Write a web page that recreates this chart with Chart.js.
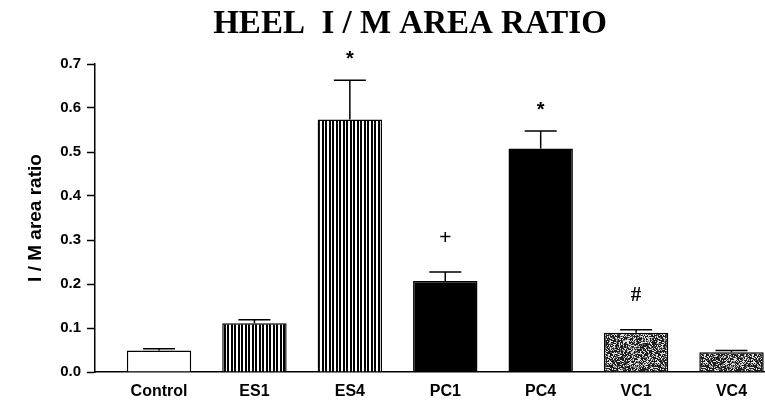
<!DOCTYPE html>
<html>
<head>
<meta charset="utf-8">
<script src="https://cdn.jsdelivr.net/npm/chart.js@4"></script>
<style>
  html, body { margin: 0; padding: 0; background: #fff; overflow: hidden; }
  #wrap { position: relative; width: 765px; height: 402px; }
</style>
</head>
<body>
<div id="wrap"><canvas id="c"></canvas></div>
<script>
// ---- data ----
const chartTitle = 'HEEL  I / M AREA RATIO';
const yAxisTitle = 'I / M area ratio';
const categories = ['Control', 'ES1', 'ES4', 'PC1', 'PC4', 'VC1', 'VC4'];
const values = [0.049, 0.111, 0.574, 0.207, 0.508, 0.089, 0.045];
const errors = [0.004, 0.008, 0.089, 0.020, 0.040, 0.007, 0.004];
const markers = ['', '', '*', '+', '*', '#', ''];
const yTicks = [0.0, 0.1, 0.2, 0.3, 0.4, 0.5, 0.6, 0.7];

// ---- styles ----
const fillKinds = ['white', 'stripes', 'stripes', 'black', 'black', 'stipple', 'stipple'];

function makeStripes() {
  const c = document.createElement('canvas');
  c.width = 7; c.height = 4;
  const g = c.getContext('2d');
  g.fillStyle = '#fff'; g.fillRect(0, 0, 7, 4);
  g.fillStyle = '#000';
  g.fillRect(0, 0, 2, 4);
  g.fillRect(3, 0, 2, 4);
  return g.createPattern(c, 'repeat');
}
function hash2(x, y) {
  let h = (x * 374761393 + y * 668265263) | 0;
  h = Math.imul(h ^ (h >>> 13), 1274126177);
  h = h ^ (h >>> 16);
  return (h >>> 0) / 4294967296;
}
function makeStipple() {
  const n = 48;
  const c = document.createElement('canvas');
  c.width = n; c.height = n;
  const g = c.getContext('2d');
  g.fillStyle = '#1e1e1e'; g.fillRect(0, 0, n, n);
  for (let y = 0; y < n; y++) {
    for (let x = 0; x < n; x++) {
      const h = hash2(x, y);
      if (h < 0.28) { g.fillStyle = '#e0e0e0'; g.fillRect(x, y, 1, 1); }
      else if (h < 0.45) { g.fillStyle = '#7a7a7a'; g.fillRect(x, y, 1, 1); }
    }
  }
  return g.createPattern(c, 'repeat');
}
const patterns = { white: '#ffffff', black: '#000000', stripes: makeStripes(), stipple: makeStipple() };

const markerStyle = {
  '*': { font: 'bold 20px "Liberation Sans", Arial, sans-serif', gap: 25 },
  '+': { font: 'bold 22px "Liberation Serif", "Times New Roman", serif', gap: 35 },
  '#': { font: 'bold 21px "Liberation Serif", "Times New Roman", serif', gap: 36 }
};

const whiteBg = {
  id: 'whiteBg',
  beforeDraw(chart) {
    const ctx = chart.ctx;
    ctx.save();
    ctx.fillStyle = '#fff';
    ctx.fillRect(0, 0, chart.width, chart.height);
    ctx.restore();
  }
};

const errorBars = {
  id: 'errorBars',
  afterDatasetsDraw(chart) {
    const ctx = chart.ctx;
    const ys = chart.scales.y;
    const meta = chart.getDatasetMeta(0);
    ctx.save();
    ctx.strokeStyle = '#000';
    ctx.lineWidth = 1.5;
    meta.data.forEach((el, i) => {
      const top = ys.getPixelForValue(values[i] + errors[i]);
      ctx.beginPath();
      ctx.moveTo(el.x, el.y);
      ctx.lineTo(el.x, top);
      ctx.moveTo(el.x - 16, top);
      ctx.lineTo(el.x + 16, top);
      ctx.stroke();
      const m = markers[i];
      if (m) {
        const st = markerStyle[m];
        ctx.font = st.font;
        ctx.fillStyle = '#000';
        ctx.textAlign = 'center';
        ctx.textBaseline = 'alphabetic';
        const tm = ctx.measureText(m);
        const a = tm.actualBoundingBoxAscent, d = tm.actualBoundingBoxDescent;
        const cy = top - st.gap;
        ctx.fillText(m, el.x, cy + (a - d) / 2);
      }
    });
    ctx.restore();
  }
};

const titlePlugin = {
  id: 'bigTitle',
  afterDraw(chart) {
    const ctx = chart.ctx;
    ctx.save();
    ctx.font = 'bold 33px "Liberation Serif", "Times New Roman", serif';
    ctx.fillStyle = '#000';
    ctx.textAlign = 'center';
    ctx.textBaseline = 'alphabetic';
    ctx.fillText(chartTitle, 410, 33);
    ctx.restore();
  }
};

new Chart(document.getElementById('c'), {
  type: 'bar',
  data: {
    datasets: [{
      data: categories.map((c, i) => ({ x: i, y: values[i] })),
      backgroundColor: fillKinds.map(k => patterns[k]),
      borderColor: '#000',
      borderWidth: 1.5,
      barPercentage: 0.9,
      categoryPercentage: 0.75
    }]
  },
  plugins: [whiteBg, errorBars, titlePlugin],
  options: {
    responsive: true,
    maintainAspectRatio: false,
    animation: false,
    layout: { padding: { top: 64, left: 20, right: 0, bottom: 0 } },
    plugins: { legend: { display: false }, tooltip: { enabled: false }, title: { display: false } },
    scales: {
      x: {
        type: 'linear',
        offset: false,
        min: -0.671,
        max: 6.351,
        afterBuildTicks(scale) { scale.ticks = categories.map((c, i) => ({ value: i })); },
        afterFit(scale) { scale.height = 30; },
        ticks: {
          callback: (v) => categories[v] !== undefined ? categories[v] : '',
          color: '#000',
          font: { family: '"Liberation Sans", Arial, sans-serif', size: 16, weight: 'bold' },
          padding: 10,
          maxRotation: 0,
          autoSkip: false
        },
        grid: { display: true, offset: false, drawOnChartArea: false, drawTicks: false },
        border: { display: true, color: '#000', width: 1.5 }
      },
      y: {
        min: 0,
        max: 0.7,
        afterBuildTicks(scale) { scale.ticks = yTicks.map(v => ({ value: v })); },
        afterFit(scale) { scale.width = 75; },
        ticks: {
          callback: (v) => Number(v).toFixed(1),
          color: '#000',
          font: { family: '"Liberation Sans", Arial, sans-serif', size: 15, weight: 'bold' },
          padding: 6
        },
        grid: { display: true, drawOnChartArea: false, drawTicks: true, tickLength: 8, tickColor: '#000', tickWidth: 1.5 },
        border: { display: true, color: '#000', width: 1.5 },
        title: {
          display: true,
          text: yAxisTitle,
          color: '#000',
          font: { family: '"Liberation Sans", Arial, sans-serif', size: 19, weight: 'bold' },
          padding: { top: 4, bottom: 0 }
        }
      }
    }
  }
});
</script>
</body>
</html>
